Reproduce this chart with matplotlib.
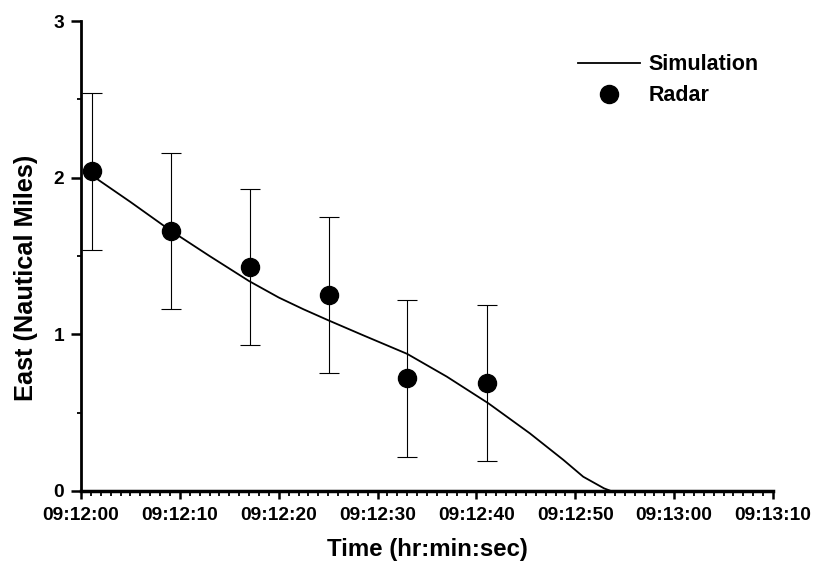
import matplotlib
matplotlib.use("Agg")
import matplotlib.pyplot as plt
from matplotlib.ticker import MultipleLocator, FuncFormatter

# dados (tempo em segundos a partir de 09:12:00)
sim_t = [1.2, 5, 9, 13, 17, 20, 22.5, 25, 28.5, 33, 37, 41.2, 45.4, 48.8, 50.8, 52.9, 53.6]
sim_east = [2.01, 1.845, 1.665, 1.50, 1.34, 1.235, 1.16, 1.09, 0.995, 0.875, 0.73, 0.56,
            0.368, 0.198, 0.091, 0.017, 0.0]

radar_t = [1.1, 9.1, 17.1, 25.1, 33.0, 41.1]
radar_east = [2.04, 1.66, 1.43, 1.25, 0.72, 0.69]
radar_err = [0.5, 0.5, 0.5, 0.5, 0.5, 0.5]

plt.rcParams['font.family'] = ['Liberation Sans', 'DejaVu Sans']
plt.rcParams['font.weight'] = 'bold'


def fmt_time(x, pos):
    # segundos -> hh:mm:ss
    total = 9 * 3600 + 12 * 60 + int(round(x))
    h = total // 3600
    m = (total % 3600) // 60
    s = total % 60
    return f"{h:02d}:{m:02d}:{s:02d}"


fig = plt.figure(figsize=(8.15, 5.68), dpi=100)
ax = fig.add_axes([0.0994, 0.1356, 0.8491, 0.8274])

ax.plot(sim_t, sim_east, color='black', lw=1.3, label='Simulation')
ax.errorbar(radar_t, radar_east, yerr=radar_err, fmt='none', ecolor='black',
            elinewidth=0.8, capsize=7, capthick=0.8)
ax.plot(radar_t, radar_east, 'o', color='black', markersize=13, label='Radar', zorder=5)

ax.set_xlim(0, 70)
ax.set_ylim(0, 3)
ax.xaxis.set_major_locator(MultipleLocator(10))
ax.xaxis.set_minor_locator(MultipleLocator(1))
ax.xaxis.set_major_formatter(FuncFormatter(fmt_time))
ax.yaxis.set_major_locator(MultipleLocator(1))
ax.yaxis.set_minor_locator(MultipleLocator(0.5))

for side in ['top', 'right']:
    ax.spines[side].set_visible(False)
ax.spines['left'].set_linewidth(2)
ax.spines['bottom'].set_linewidth(2.5)

ax.tick_params(which='major', direction='out', width=1.8, labelsize=13.8)
ax.tick_params(axis='x', which='major', length=5.8, pad=5.5)
ax.tick_params(axis='x', which='minor', direction='out', length=3.6, width=1.3)
ax.tick_params(axis='y', which='major', length=7, pad=5)
ax.tick_params(axis='y', which='minor', direction='out', length=3, width=1.3)

ax.set_xlabel('Time (hr:min:sec)', fontsize=17.3, fontweight='bold', labelpad=10)
ax.set_ylabel('East (Nautical Miles)', fontsize=18.3, fontweight='bold')
ax.yaxis.set_label_coords(-0.062, 0.453)

ax.legend(loc='upper left', bbox_to_anchor=(0.718, 0.929), frameon=False,
          fontsize=15.5, handlelength=2.9, handletextpad=0.4,
          borderpad=0, borderaxespad=0, labelspacing=0.45)

fig.savefig('out.png', dpi=100)
